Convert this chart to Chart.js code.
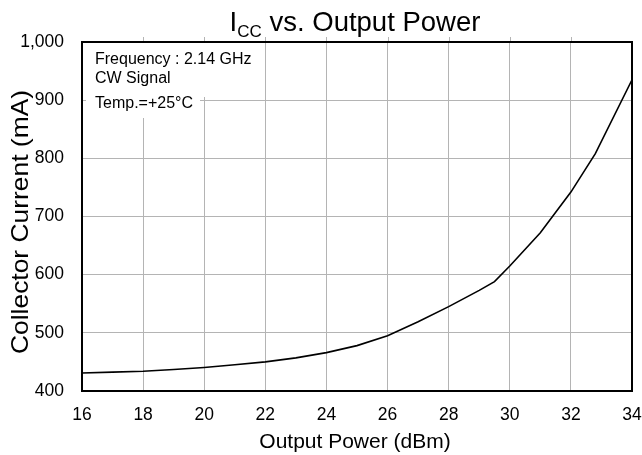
<!DOCTYPE html>
<html>
<head>
<meta charset="utf-8">
<script src="https://cdn.jsdelivr.net/npm/chart.js@4/dist/chart.umd.min.js"></script>
<style>
html,body{margin:0;padding:0;background:#fff;}
#wrap{width:642px;height:455px;position:relative;}
</style>
</head>
<body>
<div id="wrap"><canvas id="c" width="642" height="455"></canvas></div>
<script>
const outputPower = [16, 17, 18, 19, 20, 21, 22, 23, 24, 25, 26, 27, 28, 29, 29.5, 30, 31, 32, 32.8, 34];
const collectorCurrent = [431, 432.5, 434, 437, 440.5, 445, 450, 457, 466, 478, 495, 519, 545, 573, 588, 615, 672, 742, 808, 935];
const xTicks = [16, 18, 20, 22, 24, 26, 28, 30, 32, 34];
const yTicks = [400, 500, 600, 700, 800, 900, 1000];
const titleMain = "I";
const titleSub = "CC";
const titleRest = " vs. Output Power";
const xTitle = "Output Power (dBm)";
const yTitle = "Collector Current (mA)";
const noteLines = ["Frequency : 2.14 GHz", "CW Signal", "Temp.=+25\u00B0C"];

const FONT = "'Liberation Sans', Arial, Helvetica, sans-serif";

const decor = {
  id: 'decor',
  beforeDatasetsDraw(chart) {
    const ctx = chart.ctx, a = chart.chartArea;
    ctx.save();
    ctx.fillStyle = '#fff';
    ctx.fillRect(a.left + 1, a.top + 1, 172, 54);
    ctx.fillRect(a.left + 4, a.top + 54, 114, 22);
    ctx.fillStyle = '#000';
    ctx.font = '16px ' + FONT;
    ctx.textBaseline = 'middle';
    ctx.textAlign = 'left';
    ctx.fillText(noteLines[0], a.left + 13, a.top + 18);
    ctx.fillText(noteLines[1], a.left + 13, a.top + 37);
    ctx.fillText(noteLines[2], a.left + 13, a.top + 62);
    ctx.restore();
  },
  afterDraw(chart) {
    const ctx = chart.ctx, a = chart.chartArea, xs = chart.scales.x;
    ctx.save();
    // small tick stubs above top border
    ctx.strokeStyle = '#b4b4b4';
    ctx.lineWidth = 1;
    xTicks.slice(1, -1).forEach(v => {
      const px = Math.round(xs.getPixelForValue(v)) + 0.5;
      ctx.beginPath(); ctx.moveTo(px, a.top - 5); ctx.lineTo(px, a.top); ctx.stroke();
    });
    ctx.strokeStyle = '#000';
    ctx.lineWidth = 2;
    ctx.strokeRect(a.left, a.top, a.right - a.left, a.bottom - a.top);
    // title with subscript
    const big = '27.5px ' + FONT, small = '17px ' + FONT;
    ctx.font = big; const w1 = ctx.measureText(titleMain).width;
    const w3 = ctx.measureText(titleRest).width;
    ctx.font = small; const w2 = ctx.measureText(titleSub).width;
    const total = w1 + w2 + w3;
    let x = 355 - total / 2;
    const base = 31;
    ctx.fillStyle = '#000';
    ctx.textBaseline = 'alphabetic';
    ctx.textAlign = 'left';
    ctx.font = big; ctx.fillText(titleMain, x, base); x += w1;
    ctx.font = small; ctx.fillText(titleSub, x, base + 6); x += w2;
    ctx.font = big; ctx.fillText(titleRest, x, base);
    // x axis title
    ctx.textAlign = 'center';
    ctx.font = '21px ' + FONT;
    ctx.fillText(xTitle, 355, 448);
    // y axis title
    ctx.translate(28, 222);
    ctx.rotate(-Math.PI / 2);
    ctx.scale(1.1, 1);
    ctx.font = '24px ' + FONT;
    ctx.fillText(yTitle, 0, 0);
    ctx.restore();
  }
};

new Chart(document.getElementById('c'), {
  type: 'line',
  data: {
    datasets: [{
      data: outputPower.map((p, i) => ({x: p, y: collectorCurrent[i]})),
      borderColor: '#000',
      borderWidth: 1.6,
      pointRadius: 0,
      tension: 0,
      fill: false
    }]
  },
  options: {
    responsive: false,
    animation: false,
    devicePixelRatio: 1,
    layout: {padding: {top: 42, right: 10, bottom: 0, left: 0}},
    plugins: {legend: {display: false}, tooltip: {enabled: false}, title: {display: false}},
    scales: {
      x: {
        type: 'linear', min: 16, max: 34,
        afterBuildTicks: s => { s.ticks = xTicks.map(v => ({value: v})); },
        afterFit: s => { s.height = 64; s.paddingLeft = 0; s.paddingRight = 0; },
        grid: {color: '#b4b4b4', lineWidth: 1, drawTicks: false},
        border: {display: false},
        ticks: {color: '#000', font: {family: FONT, size: 17.5}, padding: 14, maxRotation: 0}
      },
      y: {
        min: 400, max: 1000,
        afterBuildTicks: s => { s.ticks = yTicks.map(v => ({value: v})); },
        afterFit: s => { s.width = 82; s.paddingTop = 0; s.paddingBottom = 0; },
        grid: {color: '#b4b4b4', lineWidth: 1, drawTicks: false},
        border: {display: false},
        ticks: {color: '#000', font: {family: FONT, size: 17.5}, padding: 18,
          callback: v => v.toLocaleString('en-US')}
      }
    }
  },
  plugins: [decor]
});
</script>
</body>
</html>
